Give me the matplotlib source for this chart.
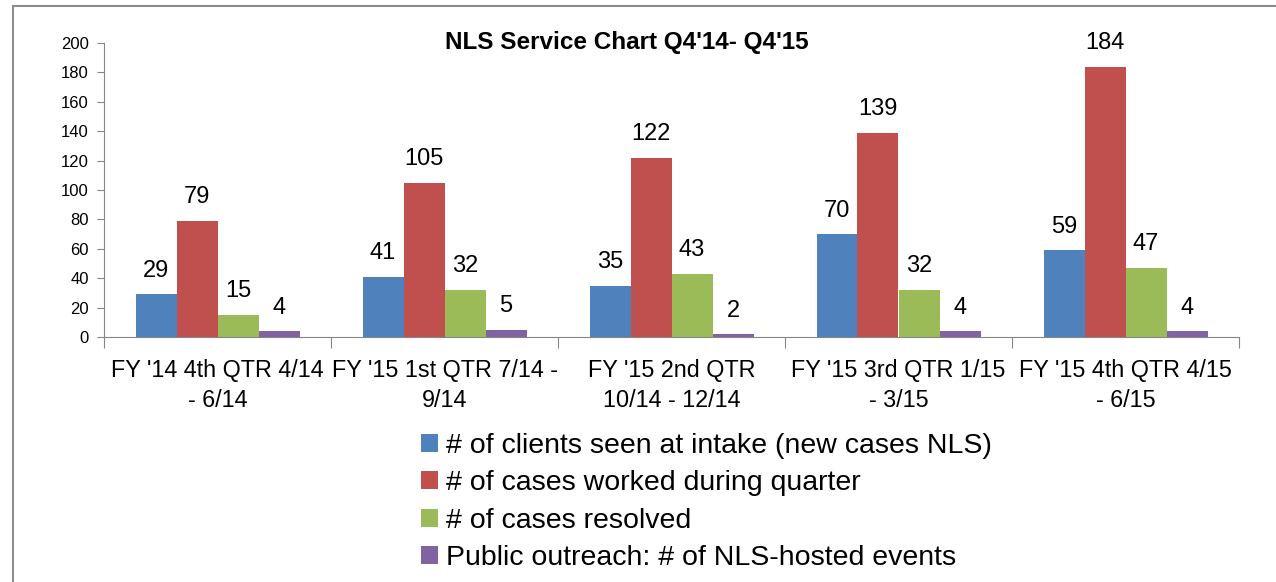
import numpy as np
import matplotlib.pyplot as plt
from matplotlib.patches import Rectangle

plt.rcParams['font.family'] = ['Liberation Sans', 'DejaVu Sans']

# データ
categories = ["FY '14 4th QTR 4/14\n- 6/14", "FY '15 1st QTR 7/14 -\n9/14",
              "FY '15 2nd QTR\n10/14 - 12/14", "FY '15 3rd QTR 1/15\n- 3/15",
              "FY '15 4th QTR 4/15\n- 6/15"]
series_names = ["# of clients seen at intake (new cases NLS)",
                "# of cases worked during quarter",
                "# of cases resolved",
                "Public outreach: # of NLS-hosted events"]
clients = [29, 41, 35, 70, 59]
worked = [79, 105, 122, 139, 184]
resolved = [15, 32, 43, 32, 47]
outreach = [4, 5, 2, 4, 4]
colors = ["#4F81BD", "#C0504D", "#9BBB59", "#8064A2"]

fig = plt.figure(figsize=(12.76, 5.82), dpi=100)
ax = fig.add_axes([104/1276, 1-337/582, (1239-104)/1276, (337-43)/582])

# 外枠
fig.patches.append(Rectangle((13/1276, -0.1), 1.2, 1-6/582+0.1, transform=fig.transFigure,
                             fill=False, edgecolor="#8c8c8c", linewidth=1.5))

x = np.arange(len(categories))
w = 41/227
for i, (vals, c) in enumerate(zip([clients, worked, resolved, outreach], colors)):
    pos = x - 1.5*w + i*w
    ax.bar(pos, vals, width=w, color=c, label=series_names[i])
    for px, v in zip(pos, vals):
        ax.annotate(str(v), (px, v), xytext=(0, 9), textcoords="offset points",
                    ha="center", va="bottom", fontsize=17)

ax.set_xlim(-0.5, len(categories)-0.5)
ax.set_ylim(0, 200)
ax.set_yticks(range(0, 201, 20))
ax.tick_params(axis="y", labelsize=12, length=5, color="#868686", pad=6)
ax.set_xticks(np.arange(-0.5, len(categories), 1))
ax.set_xticklabels([])
ax.set_xticks(x, minor=True)
ax.set_xticklabels(categories, minor=True, fontsize=16.8, linespacing=1.4)
ax.tick_params(axis="x", which="major", length=8, color="#868686")
ax.tick_params(axis="x", which="minor", length=0, pad=16)
for s in ["top", "right"]:
    ax.spines[s].set_visible(False)
for s in ["left", "bottom"]:
    ax.spines[s].set_color("#868686")

fig.text(627/1276, 1-42/582, "NLS Service Chart Q4'14- Q4'15", ha="center", va="center",
         fontsize=17.5, fontweight="bold")

fig.legend(loc="upper left", bbox_to_anchor=(410/1276, 1-422/582), frameon=False,
           fontsize=20.5, handlelength=0.6, handleheight=0.6, handletextpad=0.25,
           labelspacing=0.39, borderaxespad=0)

plt.savefig("out.png", dpi=100)
